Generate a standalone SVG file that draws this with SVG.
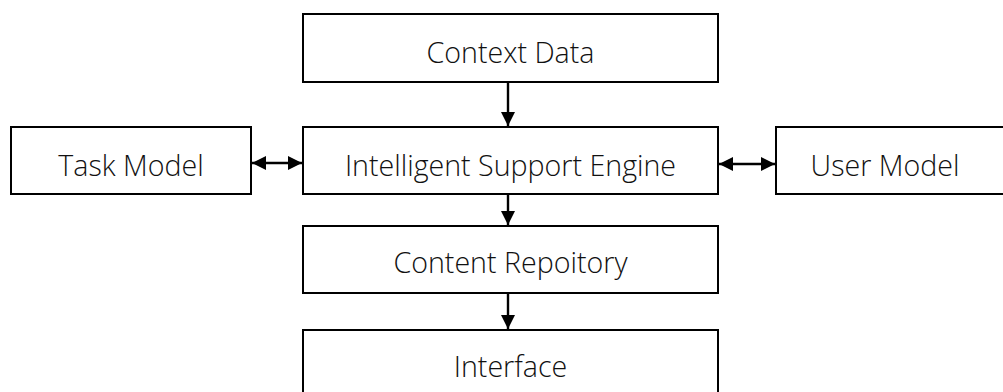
<svg xmlns="http://www.w3.org/2000/svg" width="1003" height="392" viewBox="0 0 1003 392">
<defs>
<style>
.box{fill:#fff;stroke:#000;stroke-width:2}
.lbl{font-family:"Open Sans","Noto Sans","Liberation Sans",sans-serif;font-weight:300;font-size:28.6px;fill:#111;text-anchor:middle}
.con{stroke:#000;stroke-width:2.4;fill:none}
</style>
<marker id="ah" viewBox="0 0 14 14" refX="14" refY="7" markerWidth="14" markerHeight="14" markerUnits="userSpaceOnUse" orient="auto-start-reverse">
<path d="M0,0 L14,7 L0,14 Z" fill="#000"/>
</marker>
</defs>
<rect width="1003" height="392" fill="#fff"/>
<g id="context-data"><rect class="box" x="303" y="14" width="415" height="68"/><text class="lbl" x="510.5" y="63">Context Data</text></g>
<g id="task-model"><rect class="box" x="11" y="127" width="240" height="67"/><text class="lbl" x="131" y="176">Task Model</text></g>
<g id="engine"><rect class="box" x="303" y="127" width="415" height="67"/><text class="lbl" x="510.5" y="176">Intelligent Support Engine</text></g>
<g id="user-model"><rect class="box" x="776" y="127" width="240" height="67"/><text class="lbl" x="885" y="176">User Model</text></g>
<g id="content-repository"><rect class="box" x="303" y="226" width="415" height="67"/><text class="lbl" x="510.5" y="273">Content Repoitory</text></g>
<g id="interface"><rect class="box" x="303" y="330" width="415" height="80"/><text class="lbl" x="510.5" y="377">Interface</text></g>
<g id="connectors">
<line class="con" x1="508" y1="82" x2="508" y2="126" marker-end="url(#ah)"/>
<line class="con" x1="252" y1="163" x2="302" y2="163" marker-start="url(#ah)" marker-end="url(#ah)"/>
<line class="con" x1="719" y1="164" x2="775" y2="164" marker-start="url(#ah)" marker-end="url(#ah)"/>
<line class="con" x1="508" y1="194" x2="508" y2="225" marker-end="url(#ah)"/>
<line class="con" x1="508" y1="293" x2="508" y2="329" marker-end="url(#ah)"/>
</g>
</svg>
